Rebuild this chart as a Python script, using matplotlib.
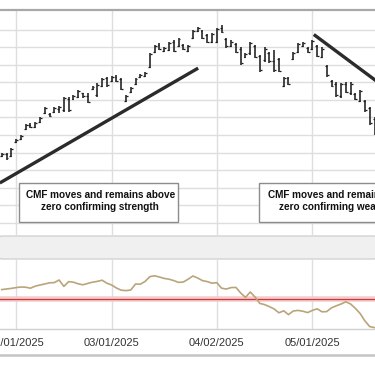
import numpy as np
import matplotlib
matplotlib.use("Agg")
import matplotlib.pyplot as plt
from matplotlib.patches import Rectangle, FancyBboxPatch
from matplotlib.lines import Line2D

plt.rcParams['font.family'] = ['Liberation Sans', 'DejaVu Sans']

# daily OHLC bars (arbitrary price units)
highs = [204.9, 204.9, 206.3, 208.9, 210.0, 213.1, 213.4, 213.7, 215.1, 218.0,
         216.3, 218.0, 218.3, 220.9, 220.9, 221.4, 222.9, 222.0, 222.0, 224.0,
         224.9, 226.3, 226.6, 226.9, 227.1, 226.3, 221.4, 223.7, 226.3, 227.4,
         228.0, 233.4, 235.7, 236.3, 235.1, 236.6, 237.1, 237.7, 236.0, 235.7,
         240.0, 240.9, 240.0, 238.9, 239.1, 240.6, 241.4, 237.7, 237.1, 236.3,
         235.1, 233.4, 236.6, 235.7, 232.9, 235.1, 233.7, 234.3, 232.0, 226.6,
         226.6, 233.7, 236.3, 236.6, 235.1, 237.1, 235.7, 235.1, 230.0, 225.7,
         225.1, 224.9, 225.1, 225.1, 222.0, 222.9, 220.0, 218.0, 215.1]
lows = [203.7, 202.9, 203.7, 207.7, 208.6, 211.4, 212.0, 212.0, 213.4, 216.0,
        215.1, 216.3, 216.3, 216.6, 216.6, 220.0, 220.6, 220.6, 219.1, 222.9,
        220.9, 223.7, 223.7, 225.1, 225.1, 222.9, 219.4, 222.0, 224.3, 226.3,
        226.6, 229.1, 233.4, 234.3, 233.7, 234.0, 233.7, 235.1, 234.3, 233.7,
        237.4, 239.4, 237.4, 236.3, 236.3, 236.3, 239.1, 234.9, 235.1, 233.4,
        230.0, 232.0, 232.9, 232.0, 228.0, 230.9, 230.6, 228.0, 228.0, 223.7,
        224.3, 231.4, 233.4, 235.1, 233.4, 234.3, 232.3, 232.0, 226.6, 223.7,
        220.9, 220.6, 222.0, 221.4, 220.0, 219.4, 216.6, 212.9, 210.0]
opens = [204.0, 204.5, 203.9, 208.0, 208.8, 211.7, 212.8, 212.3, 213.6, 216.3,
         216.0, 216.5, 217.4, 217.0, 220.4, 220.3, 220.9, 222.0, 221.2, 223.1,
         221.3, 224.1, 226.2, 225.4, 226.7, 226.0, 219.8, 222.2, 224.5, 226.5,
         226.9, 229.5, 233.7, 235.6, 234.0, 234.4, 236.5, 235.4, 235.7, 234.1,
         237.8, 239.7, 239.7, 238.5, 236.6, 236.7, 240.6, 237.3, 235.4, 236.0,
         234.7, 232.3, 233.3, 235.3, 232.5, 231.3, 233.4, 231.0, 231.6, 224.1,
         226.2, 231.7, 233.8, 235.4, 234.8, 234.6, 235.4, 232.4, 229.6, 225.3,
         224.7, 221.0, 224.7, 222.0, 221.7, 219.8, 219.6, 217.6, 214.7]
closes = [204.6, 203.4, 206.0, 208.6, 209.7, 212.8, 212.4, 213.4, 214.9, 217.7,
          215.4, 217.6, 218.0, 220.5, 217.0, 221.1, 222.6, 221.0, 219.5, 223.8,
          224.4, 226.0, 224.2, 226.6, 225.5, 223.2, 221.1, 223.4, 226.0, 227.1,
          227.7, 233.0, 235.3, 234.6, 234.8, 236.2, 234.1, 237.3, 234.6, 235.4,
          239.6, 240.5, 237.8, 236.7, 238.8, 240.2, 239.5, 235.3, 236.7, 233.8,
          230.5, 233.1, 236.2, 232.4, 228.5, 234.7, 231.0, 228.6, 228.4, 226.2,
          224.7, 233.4, 235.9, 236.2, 233.7, 236.8, 232.7, 234.6, 227.0, 224.0,
          221.3, 224.5, 222.4, 224.6, 220.3, 222.5, 217.0, 213.3, 210.4]

# Chaikin Money Flow, one value per bar
cmf = [0.047, 0.050, 0.053, 0.057, 0.060, 0.059, 0.054, 0.064, 0.070, 0.075,
       0.081, 0.082, 0.095, 0.063, 0.087, 0.084, 0.076, 0.071, 0.078, 0.084,
       0.088, 0.094, 0.079, 0.070, 0.055, 0.044, 0.042, 0.045, 0.075, 0.074,
       0.088, 0.112, 0.116, 0.110, 0.103, 0.099, 0.092, 0.083, 0.085, 0.099,
       0.115, 0.105, 0.092, 0.087, 0.079, 0.082, 0.054, 0.050, 0.057, 0.058,
       0.030, 0.008, 0.035, 0.010, -0.022, -0.028, -0.038, -0.050, -0.069, -0.059,
       -0.078, -0.060, -0.057, -0.061, -0.068, -0.057, -0.049, -0.064, -0.063, -0.044,
       -0.034, -0.025, -0.014, -0.025, -0.047, -0.073, -0.110, -0.138, -0.143]

# trend lines: (start bar, start price) -> (end bar, end price)
trend_up = [(-0.4, 196.3), (41.1, 229.1)]
trend_down = [(65.3, 238.7), (79.0, 224.8)]

tick_pos = [3, 23, 45, 65]
tick_labels = ['02/01/2025', '03/01/2025', '04/02/2025', '05/01/2025']

note_left = 'CMF moves and remains above\nzero confirming strength'
note_right = 'CMF moves and remains below\nzero confirming weakness'

x = np.arange(len(highs))
grid_c = '#dedede'

fig = plt.figure(figsize=(3.75, 3.66), dpi=100)
fig.patch.set_facecolor('white')

# ---- price panel
ax = fig.add_axes([0, 0.3579, 1, 0.6148])
ax.set_xlim(-0.36, 78.1)
ax.set_ylim(181.43, 245.71)
ax.set_yticks(np.arange(185, 241, 5))
ax.set_xticks(tick_pos)
ax.grid(True, color=grid_c, lw=1.0)
ax.tick_params(length=0, labelbottom=False, labelleft=False)
for s in ['left', 'right', 'bottom']:
    ax.spines[s].set_visible(False)
ax.spines['top'].set_color('#a8a8a8')
ax.spines['top'].set_linewidth(1.6)

ax.vlines(x, lows, highs, color='#1e1e1e', lw=1.15, zorder=3)
ax.hlines(opens, x - 0.4, x, color='#1e1e1e', lw=0.9, zorder=3)
ax.hlines(closes, x, x + 0.4, color='#1e1e1e', lw=0.9, zorder=3)

for tl in (trend_up, trend_down):
    ax.plot([tl[0][0], tl[1][0]], [tl[0][1], tl[1][1]], color='#2b2b2b', lw=2.4,
            solid_capstyle='butt', zorder=4)

for bx, tx, txt in [(0.0507, 0.267, note_left), (0.6907, 0.912, note_right)]:
    ax.add_patch(Rectangle((bx, 0.06), 0.424, 0.173, transform=ax.transAxes,
                           facecolor='white', edgecolor='#8c8c8c', lw=1.0, zorder=5))
    ax.text(tx, 0.152, txt, transform=ax.transAxes, ha='center', va='center',
            fontsize=7.2, fontweight='bold', color='#111111', linespacing=1.3,
            zorder=6, clip_on=True)

# ---- separator band between panels
band = FancyBboxPatch((-0.04, 1.07), 3.84, 0.23,
                      boxstyle='round,pad=0,rounding_size=0.07',
                      transform=fig.dpi_scale_trans, facecolor='#f0f0f0',
                      edgecolor='#d2d2d2', lw=1.0)
fig.patches.append(band)
bax = fig.add_axes([0, 1.07 / 3.66, 1, 0.23 / 3.66])
bax.imshow(np.linspace(0.975, 0.925, 20).reshape(-1, 1), cmap='gray', vmin=0, vmax=1,
           aspect='auto', extent=[0, 1, 0, 1])
bax.set_xlim(0, 1)
bax.set_ylim(0, 1)
bax.axis('off')
for im in bax.images:
    im.set_clip_path(band)

# ---- CMF panel
ax2 = fig.add_axes([0, 0.1011, 1, 0.1885])
ax2.set_xlim(-0.36, 78.1)
ax2.set_ylim(-0.15, 0.195)
ax2.set_xticks(tick_pos)
ax2.set_xticklabels(tick_labels, fontsize=8, color='#333333')
ax2.set_yticks([])
ax2.grid(True, axis='x', color=grid_c, lw=1.0)
ax2.tick_params(length=0, pad=6.5)
for s in ['left', 'right', 'top']:
    ax2.spines[s].set_visible(False)
ax2.spines['bottom'].set_color('#d0d0d0')
ax2.spines['bottom'].set_linewidth(1.0)

ax2.axhline(0, color='#f5cccc', lw=4.0, zorder=2)
ax2.axhline(0, color='#c83a3a', lw=0.9, zorder=3)
ax2.plot(x, cmf, color='#baa47a', lw=1.2, zorder=4)

fig.add_artist(Line2D([0, 1], [1 - 355 / 366] * 2, color='#c4c4c4', lw=1.8,
                      transform=fig.transFigure))

fig.savefig('out.png', dpi=100)
